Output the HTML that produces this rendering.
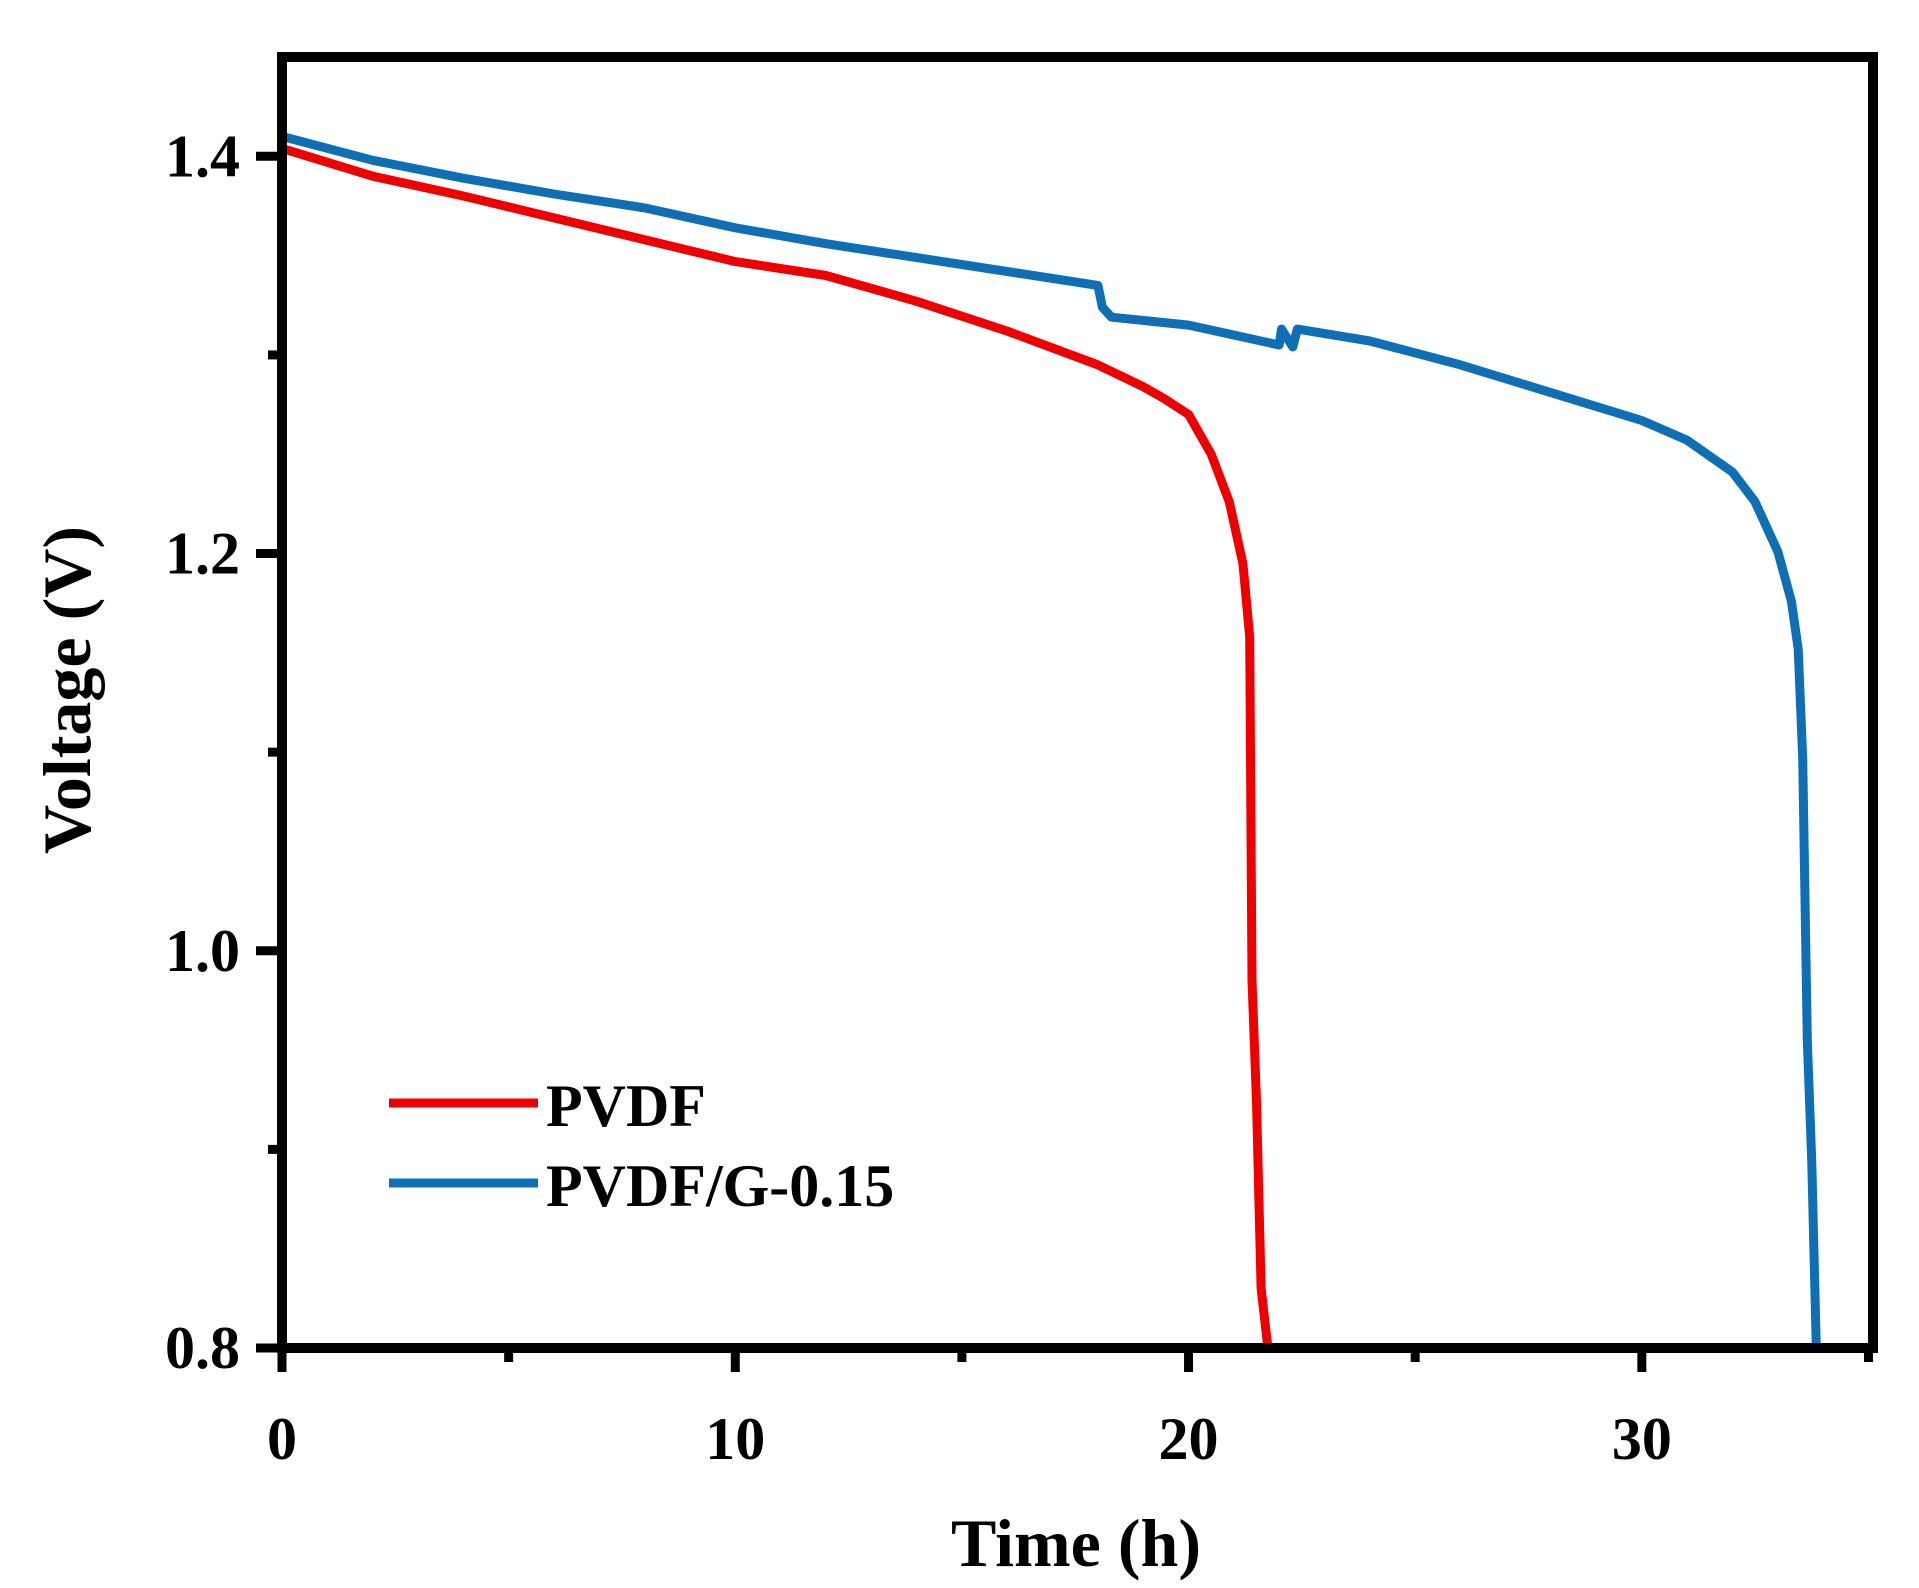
<!DOCTYPE html>
<html><head><meta charset="utf-8"><style>
html,body{margin:0;padding:0;background:#fff}
svg{display:block}
text{font-family:"Liberation Serif",serif;font-weight:bold;fill:#000}
</style></head><body>
<svg id="chart" width="1919" height="1588" viewBox="0 0 1919 1588" xmlns="http://www.w3.org/2000/svg">
<g id="plot"></g>
</svg>
<script>
const xTicks=[0,10,20,30];
const xMinor=[5,15,25,35];
const yTicks=[0.8,1.0,1.2,1.4];
const yTickLabels=["0.8","1.0","1.2","1.4"];
const yMinor=[0.9,1.1,1.3];
const pvdfT=[0,2,4,6,8,10,12,14,16,18,19,19.46,20,20.5,20.9,21.2,21.35,21.4,21.5,21.6,21.75];
const pvdfV=[1.404,1.39,1.38,1.369,1.358,1.347,1.34,1.327,1.312,1.295,1.284,1.278,1.27,1.25,1.226,1.195,1.158,0.985,0.924,0.83,0.8];
const gT=[0,2,4,6,8,10,12,14,16,18,18.1,18.3,20,22,22.05,22.3,22.4,24,26,28,30,31,32,32.5,33,33.3,33.45,33.55,33.65,33.75,33.85];
const gV=[1.41,1.398,1.389,1.381,1.374,1.364,1.356,1.349,1.342,1.335,1.324,1.319,1.315,1.305,1.313,1.304,1.313,1.307,1.295,1.281,1.267,1.257,1.241,1.226,1.201,1.176,1.152,1.097,0.955,0.893,0.8];
const L=282,R=1873,T=57,B=1348,X0=0,X1=35.1,Y0=0.8,Y1=1.45;
const sx=v=>L+(v-X0)/(X1-X0)*(R-L);
const sy=v=>B-(v-Y0)/(Y1-Y0)*(B-T);
const g=document.getElementById('plot');
const NS="http://www.w3.org/2000/svg";
function mk(tag,attrs){const e=document.createElementNS(NS,tag);for(const k in attrs)e.setAttribute(k,attrs[k]);g.appendChild(e);return e;}
function series(ts,vs,color,name){
  const d=ts.map((t,i)=>(i?'L':'M')+sx(t).toFixed(1)+','+sy(vs[i]).toFixed(1)).join(' ');
  const p=mk('path',{d:d,fill:'none',stroke:color,'stroke-width':9,'stroke-linejoin':'round'});
  
  
}
series(pvdfT,pvdfV,'#ee0000','pvdf-line');
series(gT,gV,'#0e6fb4','pvdf-g-line');
const fr=mk('rect',{x:L,y:T,width:R-L,height:B-T,fill:'none',stroke:'#000','stroke-width':10});


xTicks.forEach(v=>{
  const t=mk('line',{x1:sx(v),x2:sx(v),y1:B,y2:B+24,stroke:'#000','stroke-width':9});
  
  
  const l=mk('text',{x:sx(v),y:1459,'text-anchor':'middle','font-size':60});
  l.textContent=String(v);
  
  
});
xMinor.forEach(v=>{
  const t=mk('line',{x1:sx(v),x2:sx(v),y1:B,y2:B+14,stroke:'#000','stroke-width':9});
  
  
});
yTicks.forEach((v,i)=>{
  const t=mk('line',{x1:L-26,x2:L,y1:sy(v),y2:sy(v),stroke:'#000','stroke-width':9});
  
  
  const l=mk('text',{x:240,y:sy(v)+20,'text-anchor':'end','font-size':60});
  l.textContent=yTickLabels[i];
  
  
});
yMinor.forEach(v=>{
  const t=mk('line',{x1:L-14,x2:L,y1:sy(v),y2:sy(v),stroke:'#000','stroke-width':9});
  
  
});
const xt=mk('text',{x:1076,y:1566,'text-anchor':'middle','font-size':68});
xt.textContent='Time (h)';


const yt=mk('text',{x:0,y:0,'text-anchor':'middle','font-size':68,transform:'translate(90,690) rotate(-90)'});
yt.textContent='Voltage (V)';


const l1=mk('line',{x1:389,x2:538,y1:1103,y2:1103,stroke:'#ee0000','stroke-width':9});


const t1=mk('text',{x:546,y:1126,'font-size':60});
t1.textContent='PVDF';


const l2=mk('line',{x1:389,x2:538,y1:1183,y2:1183,stroke:'#0e6fb4','stroke-width':9});


const t2=mk('text',{x:546,y:1206,'font-size':60});
t2.textContent='PVDF/G-0.15';


</script>
</body></html>
